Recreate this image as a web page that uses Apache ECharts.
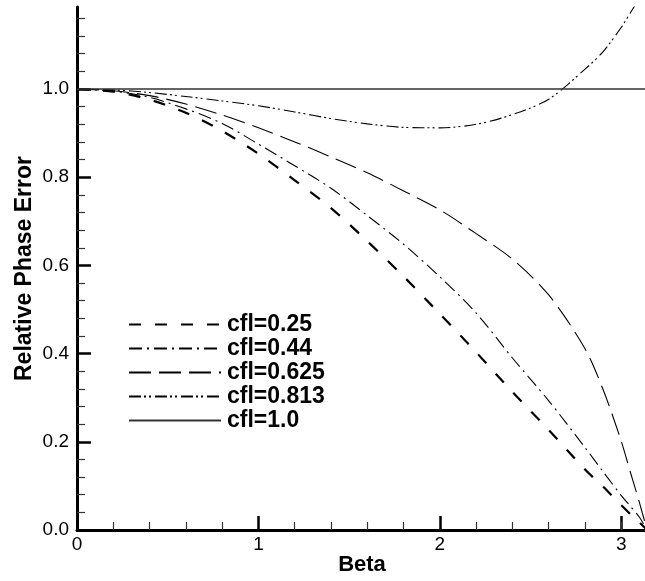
<!DOCTYPE html>
<html><head><meta charset="utf-8">
<script src="https://cdn.jsdelivr.net/npm/echarts@6/dist/echarts.min.js"></script>
<style>html,body{margin:0;padding:0;background:#fff}#c{width:645px;height:581px}</style>
</head><body><div id="c"></div>
<script>
const beta = [0, 0.2, 0.4, 0.6, 0.8, 1.0, 1.2, 1.4, 1.6, 1.8, 2.0, 2.2, 2.4, 2.6, 2.8, 2.9, 3.0, 3.05, 3.1, 3.1416];
const cfl025 = [1.0, 0.994, 0.976, 0.946, 0.905, 0.853, 0.793, 0.730, 0.655, 0.575, 0.490, 0.403, 0.313, 0.227, 0.137, 0.098, 0.056, 0.036, 0.017, 0];
const cfl044 = [1.0, 0.995, 0.981, 0.955, 0.922, 0.875, 0.826, 0.775, 0.713, 0.648, 0.574, 0.492, 0.390, 0.293, 0.187, 0.132, 0.078, 0.054, 0.029, 0];
const cfl0625 = [1.0, 0.996, 0.985, 0.966, 0.941, 0.912, 0.880, 0.846, 0.810, 0.769, 0.726, 0.672, 0.614, 0.533, 0.411, 0.318, 0.201, 0.131, 0.062, 0];
const cfl0813 = [1.0, 0.998, 0.992, 0.983, 0.973, 0.962, 0.948, 0.933, 0.921, 0.913, 0.912, 0.920, 0.942, 0.977, 1.045, 1.085, 1.140, 1.173, 1.205, 1.23];
const cfl10 = [1.0, 1.0, 1.0, 1.0, 1.0, 1.0, 1.0, 1.0, 1.0, 1.0, 1.0, 1.0, 1.0, 1.0, 1.0, 1.0, 1.0, 1.0, 1.0, 1.0];
const seriesNames = ['cfl=0.25', 'cfl=0.44', 'cfl=0.625', 'cfl=0.813', 'cfl=1.0'];
const xMajor = [0, 1, 2, 3];
const xMinor = [0.2, 0.4, 0.6, 0.8, 1.2, 1.4, 1.6, 1.8, 2.2, 2.4, 2.6, 2.8, 3.0];
const yMajor = [0, 0.2, 0.4, 0.6, 0.8, 1.0];
const yMinor = [0.04, 0.08, 0.12, 0.16, 0.24, 0.28, 0.32, 0.36, 0.44, 0.48, 0.52, 0.56, 0.64, 0.68, 0.72, 0.76, 0.84, 0.88, 0.92, 0.96, 1.04, 1.08, 1.12, 1.16];

const FONT = 'Liberation Sans, Arial, sans-serif';
const pairs = arr => beta.map((b, i) => [b, arr[i]]);
const styles = [
  {type: [12, 14], width: 2.2, color: '#000'},
  {type: [13, 5, 2, 5], width: 1.1, color: '#000'},
  {type: [22, 8], width: 1.1, color: '#000'},
  {type: [12, 3, 2, 3, 2, 4], width: 1.1, color: '#000'},
  {type: 'solid', width: 1.5, color: '#333'}
];
const datasets = [cfl025, cfl044, cfl0625, cfl0813, cfl10];

const chart = echarts.init(document.getElementById('c'), null, {renderer: 'canvas'});
chart.setOption({
  animation: false,
  backgroundColor: '#fff',
  grid: {left: 77, top: 7, width: 570, height: 523, containLabel: false, outerBoundsMode: 'none'},
  legend: {
    orient: 'vertical', left: 123, top: 308,
    itemWidth: 92, itemHeight: 14, itemGap: 1,
    selectedMode: false,
    data: seriesNames,
    itemStyle: {opacity: 0},
    textStyle: {fontFamily: FONT, fontSize: 23, fontWeight: 'bold', color: '#000', padding: [0, 0, 0, 1]}
  },
  xAxis: [{
    type: 'value', min: 0, max: Math.PI, position: 'bottom', offset: 0,
    name: 'Beta', nameLocation: 'middle', nameGap: 24, nameMoveOverlap: false,
    nameTextStyle: {fontFamily: FONT, fontSize: 22, fontWeight: 'bold', color: '#000'},
    axisLine: {show: true, onZero: false, lineStyle: {color: '#000', width: 3}},
    axisTick: {show: true, inside: true, length: 14, customValues: xMajor, lineStyle: {color: '#000', width: 2.5}},
    axisLabel: {show: true, customValues: xMajor, margin: 5, fontFamily: FONT, fontSize: 19, color: '#000', formatter: v => String(Math.round(v))},
    splitLine: {show: false}
  }, {
    type: 'value', min: 0, max: Math.PI, position: 'bottom', offset: 0,
    axisLine: {show: false},
    axisTick: {show: true, inside: true, length: 8, customValues: xMinor, lineStyle: {color: '#333', width: 1.2}},
    axisLabel: {show: false},
    splitLine: {show: false}
  }],
  yAxis: [{
    type: 'value', min: 0, max: 1.186, position: 'left', offset: 0,
    name: 'Relative Phase Error', nameLocation: 'middle', nameGap: 41, nameRotate: 90, nameMoveOverlap: false,
    nameTextStyle: {fontFamily: FONT, fontSize: 23, fontWeight: 'bold', color: '#000'},
    axisLine: {show: true, onZero: false, lineStyle: {color: '#000', width: 3}},
    axisTick: {show: true, inside: true, length: 14, customValues: yMajor, lineStyle: {color: '#000', width: 2.5}},
    axisLabel: {show: true, customValues: yMajor, margin: 8, fontFamily: FONT, fontSize: 19, color: '#000', formatter: v => v.toFixed(1)},
    splitLine: {show: false}
  }, {
    type: 'value', min: 0, max: 1.186, position: 'left', offset: 0,
    axisLine: {show: false},
    axisTick: {show: true, inside: true, length: 8, customValues: yMinor, lineStyle: {color: '#333', width: 1.2}},
    axisLabel: {show: false},
    splitLine: {show: false}
  }],
  series: datasets.map((d, i) => ({
    name: seriesNames[i], type: 'line', xAxisIndex: 0, yAxisIndex: 0,
    data: pairs(d), showSymbol: false, symbol: 'none', smooth: 0.3,
    clip: true, lineStyle: styles[i], itemStyle: {color: '#000'}
  }))
});
</script>
</body></html>
